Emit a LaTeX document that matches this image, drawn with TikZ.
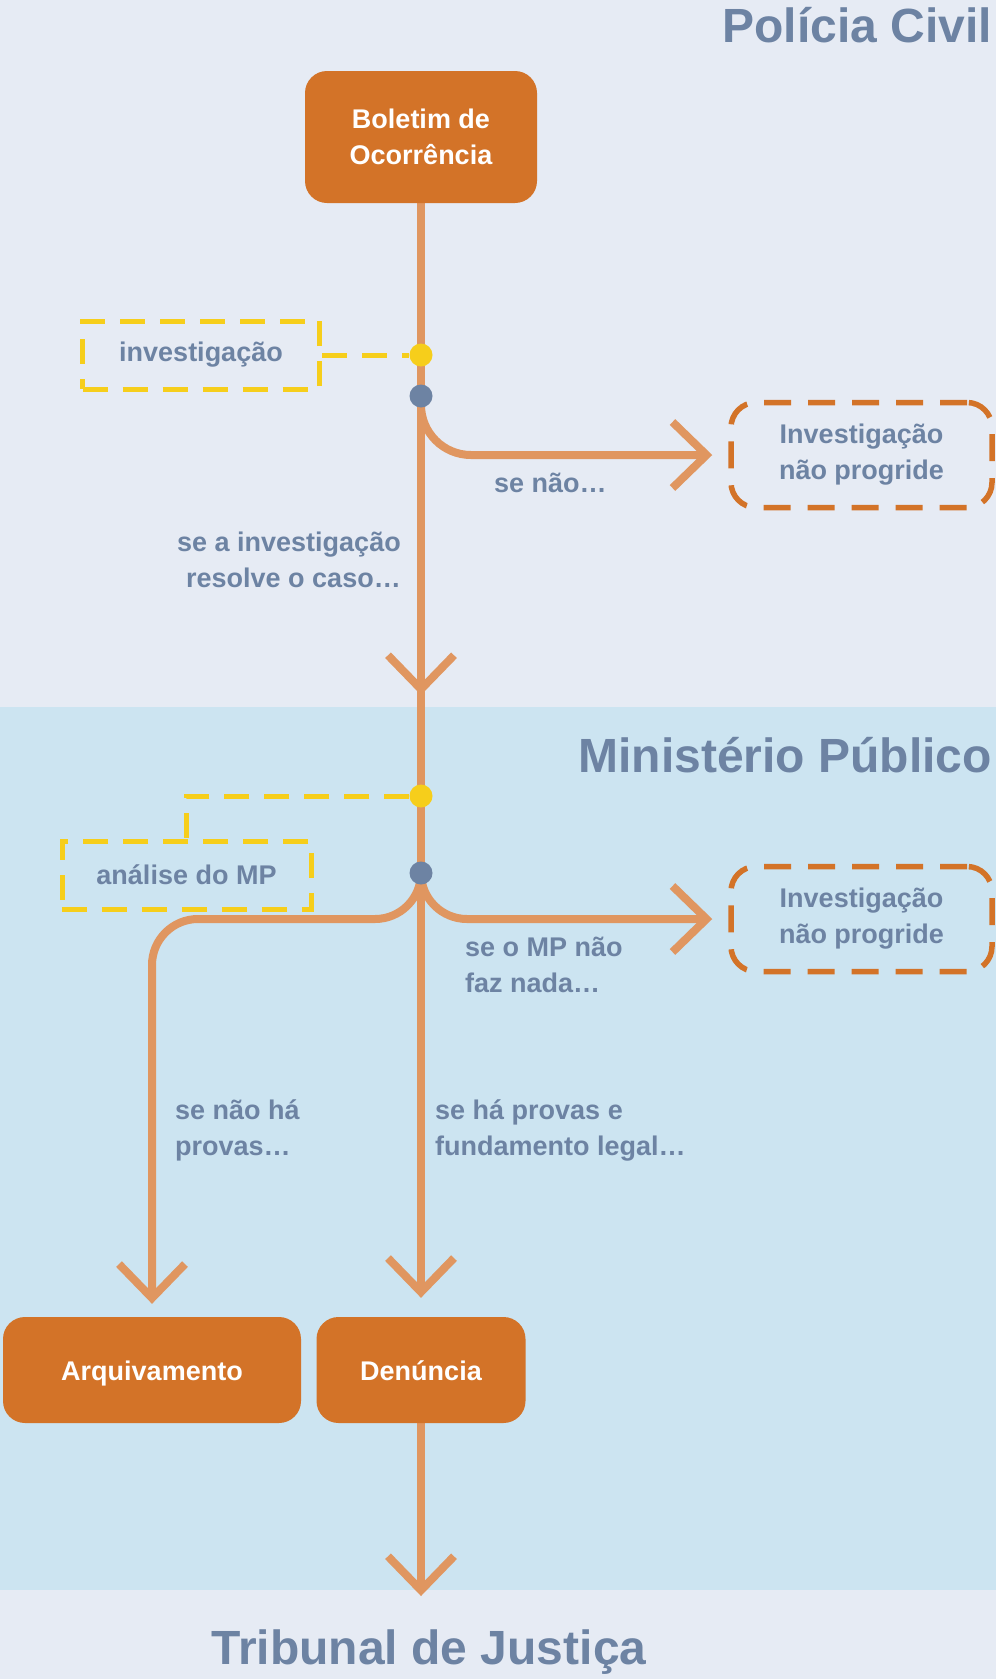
\documentclass[tikz,border=0pt]{standalone}
\usepackage{fontspec}
\setmainfont{Liberation Sans}
\usetikzlibrary{arrows.meta}
\definecolor{bgpale}{HTML}{E6EBF4}
\definecolor{bgblue}{HTML}{CCE4F1}
\definecolor{slate}{HTML}{6D83A3}
\definecolor{rust}{HTML}{D37328}
\definecolor{peach}{HTML}{E09660}
\definecolor{gold}{HTML}{F6CE1B}
\pgfdeclarelayer{bg}
\pgfdeclarelayer{lines}
\pgfsetlayers{bg,lines,main}
\tikzset{
  txt/.style={font=\fontsize{27}{36}\selectfont\bfseries},
  flow/.style={draw=peach, line width=8pt},
  barb/.style={-{Straight Barb[length=34pt,width=66pt]}},
  stage/.style={txt, fill=rust, text=white, rounded corners=22pt, align=center},
  phase/.style={text=slate, font=\fontsize{48}{48}\selectfont\bfseries, inner sep=0pt},
  cond/.style={txt, text=slate, inner sep=0pt},
  hook/.style={draw=gold, line width=5pt, dash pattern=on 25pt off 15pt},
  hint/.style={hook, txt, text=slate, minimum height=68pt},
  stall/.style={txt, draw=rust, line width=5.5pt, dash pattern=on 27pt off 17pt,
    rounded corners=25pt, text=slate, align=center, minimum width=261pt, minimum height=105pt},
  ydot/.style={circle, fill=gold, inner sep=0pt, minimum size=23pt},
  bdot/.style={circle, fill=slate, inner sep=0pt, minimum size=23pt}
}
\begin{document}
\begin{tikzpicture}[x=1pt,y=-1pt]
    \useasboundingbox (0,0) rectangle (996,1679);
    \begin{pgfonlayer}{bg}
        \fill[bgpale] (0,0) rectangle (996,1679);
        \fill[bgblue] (0,707) rectangle (996,1590);
    \end{pgfonlayer}
    \node[phase, anchor=base east] (pc) at (992,42) {Polícia Civil};
    \node[phase, anchor=base east] (mp) at (992,772) {Ministério Público};
    \node[phase, anchor=base] (tj) at (429,1664) {Tribunal de Justiça};

    \node[stage, minimum width=232pt, minimum height=132pt] (bo) at (421,137) {Boletim de\\Ocorrência};
    \node[ydot] (y1) at (421,355) {};
    \node[bdot] (b1) at (421,396) {};
    \node[hint, minimum width=237pt] (inv) at (201,355) {investigação};
    \node[stall] (np1) at (861.5,455) {Investigação\\não progride};
    \coordinate (k1) at (421,695);

    \node[ydot] (y2) at (421,796) {};
    \node[bdot] (b2) at (421,873) {};
    \node[hint, minimum width=249pt] (ana) at (186.5,875) {análise do MP};
    \node[stall] (np2) at (861.5,919) {Investigação\\não progride};
    \coordinate (kl) at (152,919);
    \node[stage, minimum width=298pt, minimum height=106pt, text height=23pt, text depth=3pt] (arq) at (152,1370) {Arquivamento};
    \node[stage, minimum width=209pt, minimum height=106pt, text height=23pt, text depth=3pt] (den) at (421,1370) {Denúncia};
    \coordinate (k2) at (421,1596);

    \node[cond, anchor=west] (c1) at (494,483) {se não…};
    \node[cond, anchor=east, align=right] (c2) at (401,560) {se a investigação\\resolve o caso…};
    \node[cond, anchor=west, align=left] (c3) at (465,965) {se o MP não\\faz nada…};
    \node[cond, anchor=west, align=left] (c4) at (175,1130) {se não há\\provas…};
    \node[cond, anchor=west, align=left] (c5) at (435,1130) {se há provas e\\fundamento legal…};

    \begin{pgfonlayer}{lines}
        \draw[flow] (bo.south) -- (b2.center);
        \draw[flow, barb] (bo.south) -- (k1);
        \draw[flow, barb, rounded corners=50pt, shorten >=16pt] (b1.center) |- (np1.west);
        \draw[flow, barb, rounded corners=46pt, shorten >=16pt] (b2.center) |- (np2.west);
        \draw[flow, barb, rounded corners=46pt, shorten >=13pt] (b2.center) |- (kl) -- (arq.north);
        \draw[flow, barb, shorten >=19pt] (b2.center) -- (den.north);
        \draw[flow, barb] (den.south) -- (k2);
        \draw[hook] (inv.east) -- (y1);
        \draw[hook] (y2) -| (ana.north);
    \end{pgfonlayer}
\end{tikzpicture}
\end{document}
